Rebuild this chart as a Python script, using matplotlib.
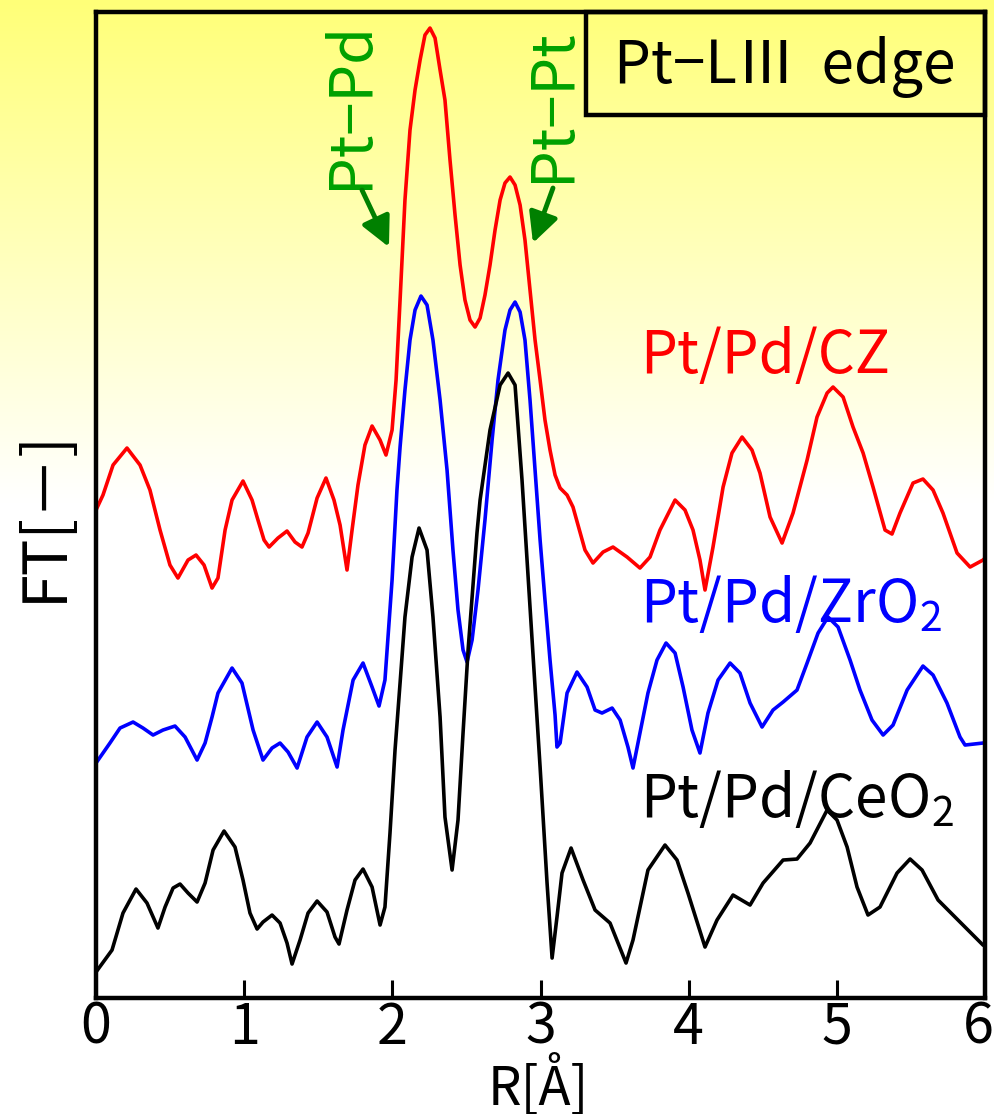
import numpy as np
import matplotlib
matplotlib.use('Agg')
import matplotlib.pyplot as plt
import matplotlib.transforms as mtransforms
from matplotlib import font_manager
from matplotlib.patches import Rectangle

# narrow, gothic-like font if available
names = {f.name for f in font_manager.fontManager.ttflist}
main_font = 'Noto Sans Mono CJK JP' if 'Noto Sans Mono CJK JP' in names else 'Noto Sans CJK JP'
plt.rcParams['font.family'] = [main_font, 'Noto Sans CJK JP', 'DejaVu Sans']
plt.rcParams['mathtext.fontset'] = 'custom'
plt.rcParams['mathtext.rm'] = main_font
plt.rcParams['mathtext.default'] = 'regular'

# Pt/Pd/CZ (red)
r_cz = [0.000, 0.047, 0.115, 0.209, 0.297, 0.364, 0.432, 0.499, 0.553, 0.621, 0.675, 0.729,
        0.783, 0.823, 0.871, 0.918, 0.992, 1.053, 1.093, 1.134, 1.168, 1.228, 1.289, 1.343,
        1.390, 1.431, 1.492, 1.552, 1.606, 1.647, 1.694, 1.728, 1.768, 1.815, 1.863, 1.917,
        1.957, 1.998, 2.025, 2.052, 2.085, 2.119, 2.153, 2.187, 2.220, 2.254, 2.288, 2.322,
        2.355, 2.389, 2.423, 2.457, 2.490, 2.524, 2.558, 2.592, 2.625, 2.659, 2.693, 2.727,
        2.760, 2.794, 2.828, 2.862, 2.895, 2.929, 2.963, 2.997, 3.030, 3.064, 3.098, 3.132,
        3.179, 3.219, 3.300, 3.354, 3.422, 3.489, 3.584, 3.671, 3.739, 3.806, 3.908, 3.975,
        4.029, 4.076, 4.110, 4.164, 4.232, 4.292, 4.360, 4.427, 4.481, 4.549, 4.630, 4.704,
        4.799, 4.866, 4.934, 4.974, 5.042, 5.109, 5.177, 5.244, 5.325, 5.372, 5.426, 5.514,
        5.581, 5.649, 5.716, 5.811, 5.899, 5.986, 6.000]
ft_cz = [4.88, 5.03, 5.33, 5.50, 5.33, 5.08, 4.68, 4.33, 4.20, 4.38, 4.43, 4.33,
         4.10, 4.20, 4.68, 4.98, 5.17, 4.98, 4.78, 4.58, 4.51, 4.60, 4.67, 4.56,
         4.51, 4.65, 5.00, 5.20, 4.98, 4.73, 4.28, 4.68, 5.13, 5.53, 5.72, 5.58,
         5.43, 5.68, 6.18, 6.98, 7.98, 8.68, 9.08, 9.38, 9.63, 9.70, 9.60, 9.28,
         8.98, 8.38, 7.83, 7.33, 6.98, 6.78, 6.71, 6.80, 7.03, 7.33, 7.68, 7.98,
         8.15, 8.21, 8.13, 7.93, 7.58, 7.08, 6.58, 6.18, 5.78, 5.48, 5.23, 5.10,
         5.03, 4.91, 4.48, 4.35, 4.46, 4.51, 4.41, 4.30, 4.41, 4.68, 4.98, 4.88,
         4.68, 4.38, 4.08, 4.51, 5.11, 5.45, 5.61, 5.48, 5.25, 4.81, 4.55, 4.85,
         5.38, 5.81, 6.05, 6.11, 6.01, 5.71, 5.45, 5.11, 4.68, 4.64, 4.85, 5.15,
         5.19, 5.08, 4.85, 4.45, 4.31, 4.38, 4.40]

# Pt/Pd/ZrO2 (blue)
r_zr = [0.000, 0.094, 0.162, 0.250, 0.317, 0.385, 0.452, 0.533, 0.601, 0.682, 0.736, 0.783,
        0.823, 0.918, 0.985, 1.060, 1.127, 1.188, 1.242, 1.296, 1.357, 1.424, 1.492, 1.559,
        1.627, 1.667, 1.735, 1.802, 1.863, 1.910, 1.950, 1.998, 2.031, 2.052, 2.085, 2.119,
        2.153, 2.193, 2.234, 2.274, 2.322, 2.369, 2.409, 2.443, 2.477, 2.504, 2.538, 2.578,
        2.625, 2.673, 2.713, 2.760, 2.794, 2.828, 2.862, 2.895, 2.929, 2.963, 2.997, 3.030,
        3.064, 3.098, 3.111, 3.132, 3.179, 3.246, 3.314, 3.368, 3.415, 3.483, 3.537, 3.590,
        3.624, 3.671, 3.725, 3.786, 3.847, 3.908, 3.962, 4.022, 4.076, 4.130, 4.198, 4.279,
        4.346, 4.414, 4.495, 4.569, 4.637, 4.731, 4.799, 4.873, 4.940, 5.008, 5.089, 5.156,
        5.237, 5.312, 5.379, 5.474, 5.581, 5.649, 5.743, 5.831, 5.865, 5.986, 6.000]
ft_zr = [2.35, 2.55, 2.70, 2.76, 2.70, 2.63, 2.68, 2.72, 2.61, 2.38, 2.55, 2.81,
         3.05, 3.30, 3.15, 2.68, 2.38, 2.50, 2.55, 2.46, 2.30, 2.61, 2.76, 2.61,
         2.31, 2.68, 3.18, 3.35, 3.11, 2.92, 3.18, 4.18, 5.08, 5.51, 6.08, 6.58,
         6.88, 7.02, 6.93, 6.58, 5.98, 5.28, 4.48, 3.88, 3.48, 3.36, 3.58, 4.08,
         4.78, 5.58, 6.18, 6.68, 6.88, 6.96, 6.86, 6.58, 5.98, 5.28, 4.58, 3.98,
         3.38, 2.83, 2.51, 2.55, 3.05, 3.26, 3.11, 2.88, 2.85, 2.90, 2.78, 2.51,
         2.30, 2.65, 3.05, 3.38, 3.55, 3.45, 3.11, 2.68, 2.45, 2.85, 3.18, 3.35,
         3.25, 2.95, 2.71, 2.88, 2.96, 3.08, 3.35, 3.65, 3.81, 3.71, 3.38, 3.08,
         2.78, 2.63, 2.73, 3.08, 3.32, 3.23, 2.95, 2.61, 2.53, 2.55, 2.55]

# Pt/Pd/CeO2 (black)
r_ce = [0.000, 0.108, 0.182, 0.270, 0.344, 0.418, 0.466, 0.520, 0.567, 0.621, 0.682, 0.736,
        0.790, 0.864, 0.938, 0.992, 1.039, 1.087, 1.127, 1.188, 1.242, 1.289, 1.323, 1.377,
        1.431, 1.492, 1.559, 1.613, 1.640, 1.694, 1.748, 1.802, 1.863, 1.917, 1.950, 1.984,
        2.018, 2.052, 2.085, 2.133, 2.180, 2.234, 2.274, 2.322, 2.355, 2.403, 2.443, 2.477,
        2.511, 2.571, 2.592, 2.659, 2.727, 2.781, 2.828, 2.875, 2.943, 2.997, 3.044, 3.078,
        3.111, 3.145, 3.206, 3.287, 3.368, 3.469, 3.523, 3.577, 3.624, 3.725, 3.840, 3.921,
        3.995, 4.110, 4.191, 4.299, 4.414, 4.502, 4.637, 4.731, 4.819, 4.934, 5.001, 5.069,
        5.136, 5.210, 5.291, 5.406, 5.494, 5.575, 5.683, 5.831, 5.986, 6.000]
ft_ce = [0.26, 0.48, 0.85, 1.09, 0.95, 0.70, 0.91, 1.10, 1.14, 1.05, 0.96, 1.15,
         1.48, 1.67, 1.51, 1.18, 0.85, 0.69, 0.76, 0.83, 0.75, 0.55, 0.34, 0.58,
         0.85, 0.97, 0.86, 0.61, 0.54, 0.88, 1.18, 1.29, 1.11, 0.73, 0.91, 1.65,
         2.48, 3.15, 3.81, 4.41, 4.70, 4.48, 3.81, 2.81, 1.81, 1.28, 1.78, 2.65,
         3.48, 4.65, 4.98, 5.68, 6.13, 6.25, 6.13, 5.18, 3.58, 2.31, 1.15, 0.40,
         0.81, 1.25, 1.50, 1.18, 0.88, 0.75, 0.55, 0.35, 0.58, 1.28, 1.53, 1.38,
         1.05, 0.51, 0.78, 1.03, 0.93, 1.15, 1.38, 1.39, 1.55, 1.88, 1.78, 1.51,
         1.11, 0.83, 0.91, 1.25, 1.39, 1.28, 0.98, 0.76, 0.53, 0.52]

x_ticks = [0, 1, 2, 3, 4, 5, 6]
fs = 42

fig = plt.figure(figsize=(9.94, 11.14), dpi=100)

# yellow -> white background
bg = fig.add_axes([0, 0, 1, 1], zorder=-1)
t = np.clip(np.linspace(0, 1, 400) / 0.45, 0, 1)
grad = np.ones((400, 1, 3))
grad[:, 0, 2] = 120 / 255 + (1 - 120 / 255) * t
bg.imshow(grad, aspect='auto', extent=[0, 1, 0, 1])
bg.axis('off')

ax = fig.add_axes([0.0966, 0.1041, 0.8944, 0.8851])
ax.set_facecolor('none')

line_kw = dict(lw=2.6, solid_joinstyle='round', solid_capstyle='round')
ax.plot(r_cz, ft_cz, color='red', **line_kw)
ax.plot(r_zr, ft_zr, color='blue', **line_kw)
ax.plot(r_ce, ft_ce, color='black', **line_kw)

ax.set_xlim(0, 6)
ax.set_ylim(0, 9.86)
ax.set_xticks(x_ticks)
ax.set_yticks([])
ax.tick_params(axis='x', direction='in', length=13, width=2.2, pad=1, labelsize=fs - 2)
for s in ax.spines.values():
    s.set_linewidth(3.2)

# keep the last tick label inside the figure
last = ax.get_xticklabels()[-1]
last.set_transform(last.get_transform() +
                   mtransforms.ScaledTranslation(-5 / 72, 0, fig.dpi_scale_trans))

ax.set_xlabel('R[Å]', fontsize=fs - 4, va='baseline')
ax.xaxis.set_label_coords(0.497, -0.1075)
ax.set_ylabel('FT[－]', fontsize=fs + 2, va='center')
ax.yaxis.set_label_coords(-0.058, 0.489)

# sample labels
ax.text(3.67, 6.25, 'Pt/Pd/CZ', color='red', fontsize=fs, ha='left', va='baseline')
ax.text(3.67, 3.76, 'Pt/Pd/ZrO$_2$', color='blue', fontsize=fs, ha='left', va='baseline')
ax.text(3.67, 1.81, 'Pt/Pd/CeO$_2$', color='black', fontsize=fs, ha='left', va='baseline')

# peak assignments
green = '#00a000'
ax.text(1.72, 8.93, 'Pt−Pd', color=green, fontsize=fs + 1, rotation=90, ha='center', va='center')
ax.text(3.08, 8.93, 'Pt−Pt', color=green, fontsize=fs + 1, rotation=90, ha='center', va='center')
arrow = dict(arrowstyle='-|>,head_length=0.9,head_width=0.45', color='#008000', lw=3.5,
             mutation_scale=20, shrinkA=0, shrinkB=0)
ax.annotate('', xy=(1.977, 7.51), xytext=(1.795, 8.08), arrowprops=arrow)
ax.annotate('', xy=(2.949, 7.55), xytext=(3.084, 8.10), arrowprops=arrow)

# edge label box
ax.add_patch(Rectangle((0.551, 0.8955), 0.449, 0.1045, transform=ax.transAxes,
                       fill=False, ec='black', lw=3.2, clip_on=False))
ax.text(0.775, 0.944, 'Pt−LⅢ  edge', transform=ax.transAxes, fontsize=fs,
        ha='center', va='center')

fig.savefig('out.png', dpi=100)
